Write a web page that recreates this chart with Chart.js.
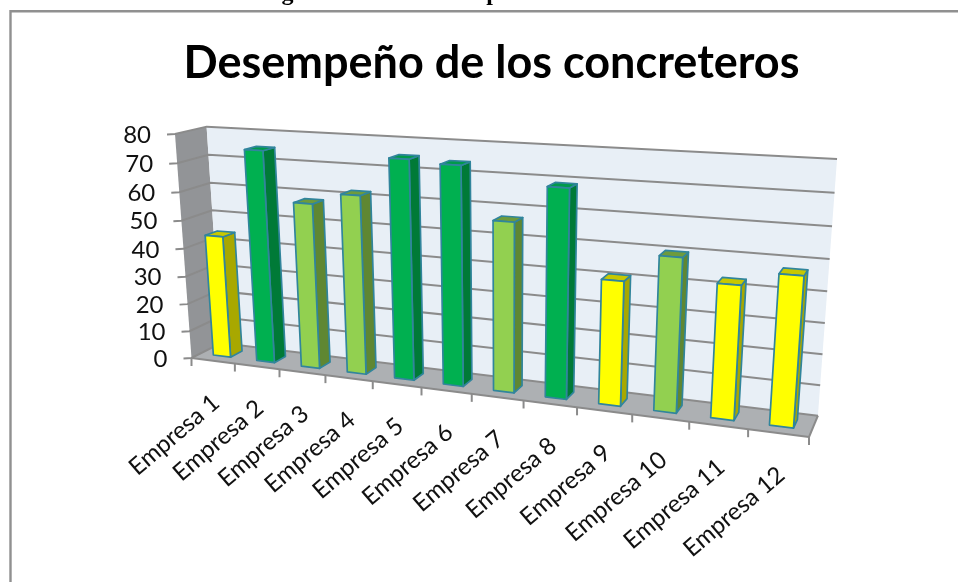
<!DOCTYPE html>
<html><head><meta charset="utf-8">
<script src="https://cdn.jsdelivr.net/npm/chart.js@4"></script>
<style>html,body{margin:0;padding:0;background:#fff;overflow:hidden}#w{width:958px;height:582px;position:relative}</style>
</head><body><div id="w"><canvas id="c" width="958" height="582"></canvas></div>
<script>
const titleText = 'Desempeño de los concreteros';
const categories = ['Empresa 1','Empresa 2','Empresa 3','Empresa 4','Empresa 5','Empresa 6','Empresa 7','Empresa 8','Empresa 9','Empresa 10','Empresa 11','Empresa 12'];
const values = [44,75,58,62,75,74,57,69,41,50,43,47.5];
const YEL='#FFFF00', DG='#00B050', LG='#92D050';
const frontColors = [YEL,DG,LG,LG,DG,DG,LG,DG,YEL,LG,YEL,YEL];
const sideColors = {[YEL]:'#A8A800',[DG]:'#007A37',[LG]:'#5F8732'};
const topColors = {[YEL]:'#C8C800',[DG]:'#009A4A',[LG]:'#6E9B3C'};
const yTicks = {min:0,max:80,step:10};

// perspective camera: images of the box's axis ends and their homogeneous weights
const O={x:191.5,y:358}, U={x:809,y:437,w:.831}, D={x:221,y:343,w:1.037}, V={x:175,y:134,w:.95};
function cam(u,d,v){
  const X=O.x+u*(U.w*U.x-O.x)+d*(D.w*D.x-O.x)+v*(V.w*V.x-O.x);
  const Y=O.y+u*(U.w*U.y-O.y)+d*(D.w*D.y-O.y)+v*(V.w*V.y-O.y);
  const W=1+u*(U.w-1)+d*(D.w-1)+v*(V.w-1);
  return [X/W,Y/W];
}
function poly(ctx,pts,fill,stroke,lw){
  ctx.beginPath();pts.forEach((p,i)=>i?ctx.lineTo(p[0],p[1]):ctx.moveTo(p[0],p[1]));ctx.closePath();
  if(fill){ctx.fillStyle=fill;ctx.fill();}
  if(stroke){ctx.strokeStyle=stroke;ctx.lineWidth=lw;ctx.lineJoin='round';ctx.stroke();}
}
function line(ctx,a,b,c,lw){ctx.beginPath();ctx.moveTo(a[0],a[1]);ctx.lineTo(b[0],b[1]);ctx.strokeStyle=c;ctx.lineWidth=lw;ctx.stroke();}
const FRONT_D=.3, BACK_D=.7;
const decY=(sy,val)=>(sy.bottom-sy.getPixelForValue(val))/(sy.bottom-sy.top);

const persp={
  id:'persp',
  afterLayout(chart){
    const t=chart.titleBlock; t.left=25; t.right=958;
    const sx=chart.scales.x, sy=chart.scales.y;
    sx._computeLabelArea=()=>undefined; sy._computeLabelArea=()=>undefined;
    sy.getLabelItems().forEach((it,i)=>{
      const p=cam(0,0,decY(sy,sy.ticks[i].value));
      it.textOffset=0;
      Object.assign(it.options,{translation:[p[0]-24,p[1]+1],rotation:0,textAlign:'right',textBaseline:'middle'});
    });
    sx.getLabelItems().forEach((it,i)=>{
      const p=cam((i+.5)/sx.ticks.length,0,0);
      it.textOffset=0;
      Object.assign(it.options,{translation:[p[0]+3,p[1]+38.5],rotation:-40.5*Math.PI/180,textAlign:'right',textBaseline:'middle'});
    });
  },
  beforeDraw(chart){
    const c=chart.ctx, sx=chart.scales.x, sy=chart.scales.y;
    c.save();
    // page frame and clipped caption above it
    c.strokeStyle='#909090';c.lineWidth=2.4;c.beginPath();c.moveTo(10.5,582);c.lineTo(10.5,11.3);c.lineTo(958,11.3);c.stroke();
    c.fillStyle='#000';c.font='bold 24px "Liberation Serif"';c.textAlign='center';c.textBaseline='alphabetic';
    c.fillText('g',287.5,0);c.fillText('p',493,0);
    // walls and floor
    poly(c,[cam(0,0,0),cam(0,1,0),cam(0,1,1),cam(0,0,1)],'#929497');
    poly(c,[cam(0,1,0),cam(1,1,0),cam(1,1,1),cam(0,1,1)],'#E8EFF6');
    poly(c,[cam(0,0,0),cam(1,0,0),cam(1,1,0),cam(0,1,0)],'#ADB0B3');
    // gridlines + value ticks
    sy.ticks.forEach(t=>{
      const v=decY(sy,t.value);
      const a=cam(0,0,v), b=cam(0,1,v), e=cam(1,1,v);
      c.beginPath();c.moveTo(a[0]-8,a[1]+.5);c.lineTo(a[0],a[1]);c.lineTo(b[0],b[1]);c.lineTo(e[0],e[1]);
      c.strokeStyle='#8b8b8b';c.lineWidth=2;c.stroke();
    });
    // floor front edge + side edge + category ticks
    line(c,cam(0,0,0),cam(1,0,0),'#8b8b8b',2);
    line(c,cam(1,0,0),cam(1,1,0),'#8b8b8b',2);
    const n=sx.ticks.length;
    for(let i=0;i<=n;i++){const a=cam(i/n,0,0);line(c,a,[a[0],a[1]+8],'#8b8b8b',2);}
    c.restore();
  },
  beforeDatasetDraw(chart,args){
    const c=chart.ctx, sx=chart.scales.x, sy=chart.scales.y, meta=args.meta;
    const nu=x=>(x-sx.left)/(sx.right-sx.left), nv=y=>(sy.bottom-y)/(sy.bottom-sy.top);
    const S='#31859C', LW=1.7;
    c.save();
    meta.data.forEach((el,i)=>{
      const col=frontColors[i];
      const l=nu(el.x-el.width/2), r=nu(el.x+el.width/2), t=nv(el.y), b=nv(el.base);
      const fbl=cam(l,FRONT_D,b), fbr=cam(r,FRONT_D,b), ftl=cam(l,FRONT_D,t), ftr=cam(r,FRONT_D,t);
      const bbr=cam(r,BACK_D,b), btr=cam(r,BACK_D,t), btl=cam(l,BACK_D,t);
      poly(c,[fbr,bbr,btr,ftr],sideColors[col],S,LW);
      poly(c,[ftl,ftr,btr,btl],topColors[col],S,LW);
      poly(c,[fbl,fbr,ftr,ftl],col,S,LW);
    });
    c.restore();
    return false;
  }
};

new Chart(document.getElementById('c'),{
  type:'bar',
  data:{labels:categories,datasets:[{data:values,backgroundColor:frontColors,categoryPercentage:1,barPercentage:.4}]},
  plugins:[persp],
  options:{
    responsive:false,animation:false,
    layout:{padding:{left:0,right:149,top:0,bottom:0}},
    plugins:{
      legend:{display:false},tooltip:{enabled:false},
      title:{display:true,text:titleText,color:'#000',font:{family:'Lato',size:45,weight:'bold',lineHeight:1.2},padding:{top:36,bottom:44}}
    },
    scales:{
      x:{type:'category',offset:true,grid:{display:false},border:{display:false},
         afterFit:s=>{s.height=224;},
         ticks:{autoSkip:false,minRotation:0,maxRotation:0,color:'#111',font:{family:'Lato',size:24}}},
      y:{type:'linear',min:yTicks.min,max:yTicks.max,grid:{display:false},border:{display:false},
         afterFit:s=>{s.width=191.5;},
         ticks:{stepSize:yTicks.step,autoSkip:false,color:'#111',font:{family:'Lato',size:24}}}
    }
  }
});
</script></body></html>
